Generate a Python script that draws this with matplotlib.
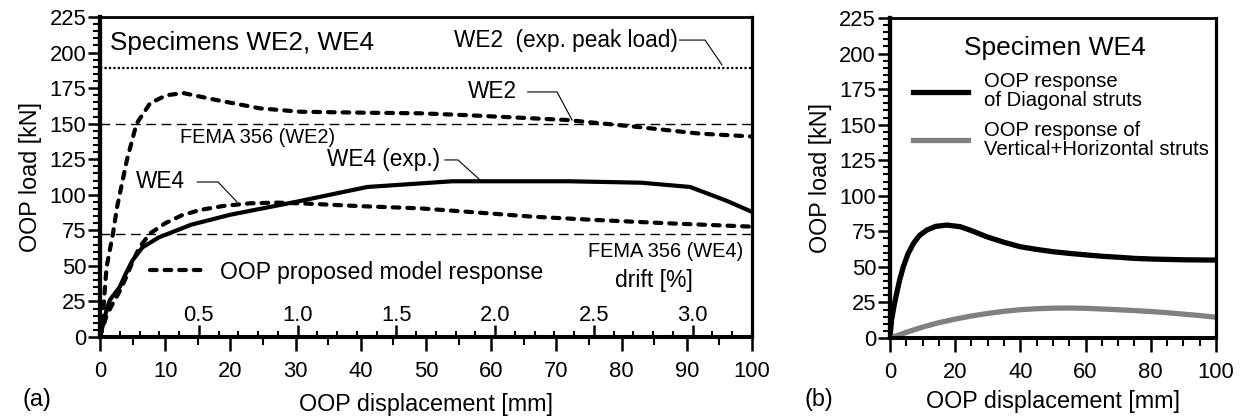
import matplotlib
matplotlib.use("Agg")
import matplotlib.pyplot as plt
from matplotlib.ticker import MultipleLocator, FormatStrFormatter

plt.rcParams['font.family'] = ['Liberation Sans', 'DejaVu Sans']

# ---- datos panel (a) ----
we2_model_x = [0, 0.5, 1.0, 2.0, 2.6, 4.1, 5.6, 7.7, 10.2, 12.8, 17.9, 24.5, 30.7, 40.9, 49.1, 56.2, 71.6, 81.8, 92, 100]
we2_model_y = [0, 19, 49, 73, 91, 124, 150, 164.5, 170, 171.5, 166.6, 160.8, 158.4, 157.7, 157.3, 156, 152.6, 148, 143, 141]

we4_model_x = [0, 1, 2, 3, 4, 5, 6.1, 7.7, 10, 12.5, 15.3, 19, 23, 27, 30.7, 40, 49, 58, 66.4, 76, 86.9, 100]
we4_model_y = [0, 15, 24, 32, 42, 53, 63.5, 72.9, 80, 85.5, 89.3, 92.2, 94, 94.5, 94, 92, 90.5, 87.5, 84.6, 82.3, 80, 77.6]

we4_exp_x = [0, 1, 1.5, 3, 4, 5, 6.5, 9, 14, 20, 30, 41, 54, 72, 83, 90.5, 96, 100]
we4_exp_y = [0, 19, 26, 35, 45, 54, 63, 70, 79, 86, 95, 105.5, 109.5, 109.5, 108.5, 105.5, 96, 88]

we2_peak = 189
fema_we2 = 150
fema_we4 = 72.5
drift_mm = 30.3  # mm por 1 % de deriva
drift_ticks = [0.5, 1.0, 1.5, 2.0, 2.5, 3.0]

# ---- datos panel (b) ----
diag_x = [0, 0.5, 1.2, 2.05, 3, 4.1, 5.5, 7.2, 9, 11.3, 14, 17.4, 21.5, 25, 29.7, 35, 39.9, 45, 50, 55, 60.3, 65, 70.6, 75, 80.7, 90, 100]
diag_y = [0, 12.7, 22, 31.4, 41, 50.1, 59, 66.5, 72, 75.9, 78.5, 79.4, 78.3, 75.5, 71.2, 67.3, 64.2, 62.3, 60.7, 59.5, 58.4, 57.5, 56.7, 56, 55.5, 55, 54.8]

vh_x = [0, 5, 10, 15, 20, 25, 30, 35, 40, 45, 50, 55, 60, 65, 70, 75, 80, 85, 90, 95, 100]
vh_y = [0, 4, 7.7, 10.8, 13.3, 15.5, 17.3, 18.8, 19.9, 20.6, 21, 21.1, 20.9, 20.4, 19.9, 19.3, 18.6, 17.8, 16.8, 15.8, 14.6]

fig = plt.figure(figsize=(12.44, 4.17), dpi=100)
ax1 = fig.add_axes([0.0804, 0.1918, 0.5241, 0.7674])
ax2 = fig.add_axes([0.7154, 0.1894, 0.2621, 0.7674])

# ---- panel (a) ----
ax1.axhline(we2_peak, color='black', lw=1.6, ls=(0, (1, 1)))
ax1.axhline(fema_we2, color='black', lw=1.0, ls=(0, (7, 4)))
ax1.axhline(fema_we4, color='black', lw=1.0, ls=(0, (7, 4)))

we2_line, = ax1.plot(we2_model_x, we2_model_y, color='black', lw=3.0, ls=(0, (1.6, 1.9)),
                     dash_capstyle='round', label='OOP proposed model response')
ax1.plot(we4_model_x, we4_model_y, color='black', lw=3.0, ls=(0, (1.6, 1.9)), dash_capstyle='round')
ax1.plot(we4_exp_x, we4_exp_y, color='black', lw=3.0, solid_joinstyle='round')

# lineas guia de las etiquetas
leaders = [
    ([88.9, 92.8, 95.4], [208.8, 208.8, 191.3]),
    ([65.6, 70.1, 72.4], [172.3, 172.3, 152.6]),
    ([52.9, 54.9, 58.3], [124.5, 124.5, 110.4]),
    ([14.9, 18.1, 21.0], [109, 109, 95]),
]
for lx, ly in leaders:
    ax1.plot(lx, ly, color='black', lw=0.8)

ax1.text(88.6, 208.8, 'WE2  (exp. peak load)', ha='right', va='center', fontsize=16.3)
ax1.text(64.0, 172.3, 'WE2', ha='right', va='center', fontsize=16.3)
ax1.text(52.2, 124.5, 'WE4 (exp.)', ha='right', va='center', fontsize=16.3)
ax1.text(13.0, 109, 'WE4', ha='right', va='center', fontsize=16.3)
ax1.text(12.3, 140.6, 'FEMA 356 (WE2)', ha='left', va='center', fontsize=14.4)
ax1.text(98.6, 59.8, 'FEMA 356 (WE4)', ha='right', va='center', fontsize=14.4)
ax1.text(85, 40, 'drift [%]', ha='center', va='center', fontsize=16.5)
ax1.text(0.015, 0.92, 'Specimens WE2, WE4', transform=ax1.transAxes, ha='left', va='center', fontsize=18.8)

ax1.legend(handles=[we2_line], loc='center left', bbox_to_anchor=(0.0767, 0.203), frameon=False,
           fontsize=16.6, handlelength=2.3, handletextpad=0.75, borderpad=0, borderaxespad=0)

ax1.set_xlim(0, 100)
ax1.set_xticks(range(0, 101, 10))
ax1.xaxis.set_minor_locator(MultipleLocator(5))

sec = ax1.secondary_xaxis('bottom', functions=(lambda x: x / drift_mm, lambda d: d * drift_mm))
sec.set_xticks(drift_ticks)
sec.xaxis.set_minor_locator(MultipleLocator(0.1))
sec.xaxis.set_major_formatter(FormatStrFormatter('%.1f'))
sec.tick_params(which='major', direction='in', length=8.5, width=1.8, pad=-23, labelsize=15.8)
sec.tick_params(which='minor', direction='in', length=4, width=1.5)
sec.spines['bottom'].set_linewidth(2.9)

ax1.set_xlabel('OOP displacement [mm]', fontsize=16.8, labelpad=8)

# ---- panel (b) ----
ax2.plot(diag_x, diag_y, color='black', lw=3.8, label='OOP response\nof Diagonal struts')
ax2.plot(vh_x, vh_y, color='#808080', lw=3.8, label='OOP response of\nVertical+Horizontal struts')
ax2.text(0.506, 0.906, 'Specimen WE4', transform=ax2.transAxes, ha='center', va='center', fontsize=19)
leg = ax2.legend(loc='upper left', bbox_to_anchor=(0.07, 0.83), frameon=False, fontsize=14.6,
                 handlelength=2.7, handletextpad=0.8, borderpad=0, borderaxespad=0, labelspacing=0.5)
for t in leg.get_texts():
    t.set_linespacing(1.0)

ax2.set_xlim(0, 100)
ax2.set_xticks(range(0, 101, 20))
ax2.xaxis.set_minor_locator(MultipleLocator(5))
ax2.set_xlabel('OOP displacement [mm]', fontsize=16.8, labelpad=5)

# ---- formato comun ----
for ax in (ax1, ax2):
    ax.set_ylim(0, 225)
    ax.set_yticks(range(0, 226, 25))
    ax.yaxis.set_minor_locator(MultipleLocator(5))
    ax.set_ylabel('OOP load [kN]', fontsize=16.8, labelpad=5)
    ax.tick_params(axis='y', which='major', direction='out', length=9, width=1.8, pad=1, labelsize=15.8)
    ax.tick_params(axis='y', which='minor', direction='out', length=5, width=1.5)
    ax.tick_params(axis='x', which='major', direction='out', length=10, width=1.8, pad=7, labelsize=15.8)
    ax.tick_params(axis='x', which='minor', direction='out', length=5.5, width=1.5)
    ax.spines['left'].set_linewidth(3.1)
    ax.spines['bottom'].set_linewidth(2.9)
    ax.spines['top'].set_linewidth(2.0)
    ax.spines['right'].set_linewidth(2.3)

fig.text(0.0177, 0.041, '(a)', ha='left', va='center', fontsize=16.8)
fig.text(0.647, 0.041, '(b)', ha='left', va='center', fontsize=16.8)

plt.savefig('out.png', dpi=100)
